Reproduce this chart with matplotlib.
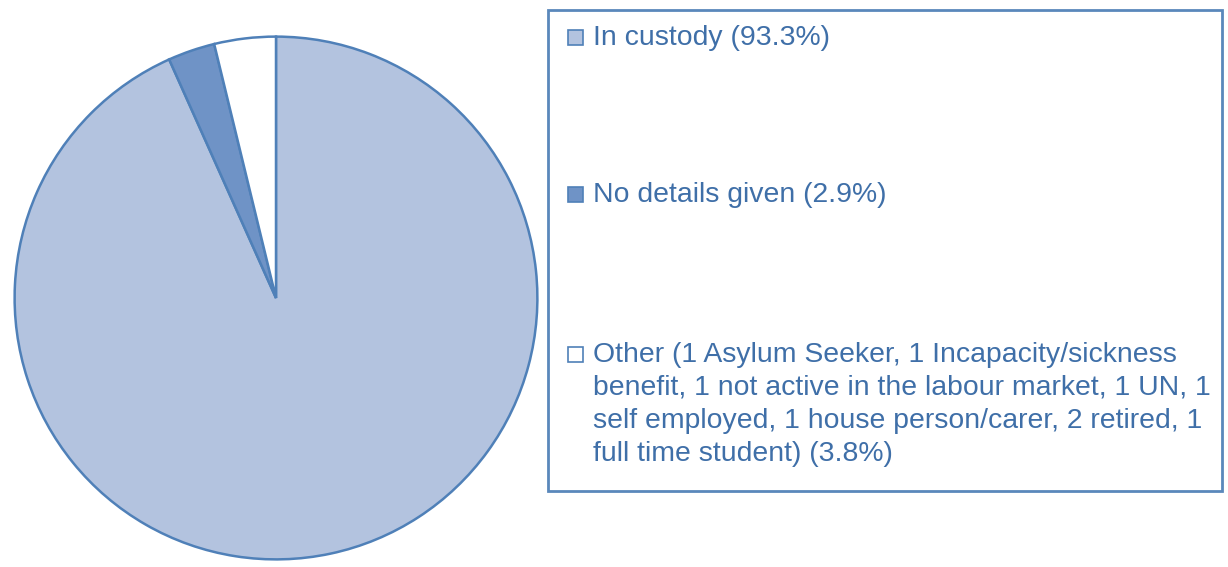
import matplotlib.pyplot as plt
from matplotlib.patches import Rectangle

# Economic status of people in the sample (percent)
categories = ['In custody', 'No details given',
              'Other (1 Asylum Seeker, 1 Incapacity/sickness\n'
              'benefit, 1 not active in the labour market, 1 UN, 1\n'
              'self employed, 1 house person/carer, 2 retired, 1\n'
              'full time student)']
shares = [93.3, 2.9, 3.8]
colors = ['#b3c3df', '#6f93c6', '#ffffff']

edge = '#4f80b8'
text_color = '#3f6fa8'
W, H = 1228, 567

fig = plt.figure(figsize=(W / 100, H / 100), dpi=100)


def fx(x):
    return x / W


def fy(y):
    return 1 - y / H


# pie, centred at (276, 298) px with radius 264 px
cx, cy, r = 276, 298, 264
ax = fig.add_axes([fx(cx - r), fy(cy + r), 2 * r / W, 2 * r / H])
ax.pie(shares, colors=colors, startangle=90, counterclock=False,
       wedgeprops=dict(edgecolor=edge, linewidth=1.8))
ax.set_xlim(-1.01, 1.01)
ax.set_ylim(-1.01, 1.01)
ax.set_aspect('auto')
ax.axis('off')

# legend box
fig.patches.append(Rectangle((fx(548), fy(491)), fx(1222) - fx(548), fy(10) - fy(491),
                             transform=fig.transFigure, fill=False,
                             edgecolor='#5a88bb', linewidth=2))

baselines = [45, 202, 362]
line_gap = 33
for label, share, col, base in zip(categories, shares, colors, baselines):
    fig.patches.append(Rectangle((fx(568), fy(base)), 15 / W, 15 / H,
                                 transform=fig.transFigure, facecolor=col,
                                 edgecolor=edge, linewidth=1.2))
    lines = f'{label} ({share}%)'.split('\n')
    for i, line in enumerate(lines):
        fig.text(fx(593), fy(base + i * line_gap), line, color=text_color,
                 fontsize=20.4, family='Liberation Sans', va='baseline', ha='left')

fig.savefig('out.png', dpi=100)
